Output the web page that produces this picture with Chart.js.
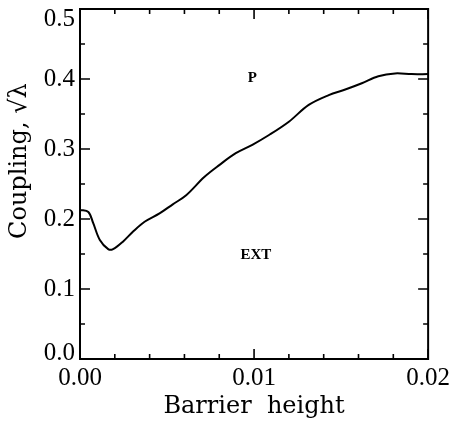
<!DOCTYPE html>
<html>
<head>
<meta charset="utf-8">
<script src="https://cdn.jsdelivr.net/npm/chart.js@4/dist/chart.umd.min.js"></script>
<style>
  html, body { margin: 0; padding: 0; background: #fff; }
  #wrap { width: 454px; height: 425px; }
</style>
</head>
<body>
<div id="wrap"><canvas id="c" width="454" height="425"></canvas></div>
<script>
// ---- data ----
const barrierHeight = [0, 0.00048, 0.00076, 0.00114, 0.00162, 0.0019, 0.00248, 0.00305, 0.00371, 0.00457,
  0.00533, 0.0061, 0.00714, 0.008, 0.00895, 0.0099, 0.01086, 0.012, 0.01314, 0.01429,
  0.01524, 0.01619, 0.01714, 0.0181, 0.01905, 0.02];
const coupling = [0.213, 0.210, 0.194, 0.170, 0.157, 0.157, 0.168, 0.182, 0.196, 0.208,
  0.221, 0.234, 0.260, 0.277, 0.294, 0.306, 0.320, 0.339, 0.363, 0.377,
  0.385, 0.394, 0.404, 0.408, 0.407, 0.407];

const xMajorTicks = [0, 0.01, 0.02];
const xTickLabels = ['0.00', '0.01', '0.02'];
const xMinorTicks = [0.002, 0.004, 0.006, 0.008, 0.012, 0.014, 0.016, 0.018];
const yMajorTicks = [0, 0.1, 0.2, 0.3, 0.4, 0.5];
const yTickLabels = ['0.0', '0.1', '0.2', '0.3', '0.4', '0.5'];
const yMinorTicks = [0.05, 0.15, 0.25, 0.35, 0.45];

const regionLabels = ['P', 'EXT'];
const regionLabelX = [0.0099, 0.0101];
const regionLabelY = [0.401, 0.149];

const xTitle = 'Barrier  height';
const yTitle = 'Coupling, \u221A\u03BB';

// ---- drawing ----
const frameTicks = {
  id: 'frameTicks',
  afterDraw(chart) {
    const ctx = chart.ctx, xs = chart.scales.x, ys = chart.scales.y;
    const a = chart.chartArea;
    ctx.save();
    ctx.strokeStyle = '#000';
    ctx.lineWidth = 2;
    ctx.strokeRect(a.left, a.top, a.right - a.left, a.bottom - a.top);
    ctx.lineWidth = 1.6;
    const tickX = (v, len) => {
      const p = xs.getPixelForValue(v);
      ctx.beginPath();
      ctx.moveTo(p, a.bottom); ctx.lineTo(p, a.bottom - len);
      ctx.moveTo(p, a.top); ctx.lineTo(p, a.top + len);
      ctx.stroke();
    };
    const tickY = (v, len) => {
      const p = ys.getPixelForValue(v);
      ctx.beginPath();
      ctx.moveTo(a.left, p); ctx.lineTo(a.left + len, p);
      ctx.moveTo(a.right, p); ctx.lineTo(a.right - len, p);
      ctx.stroke();
    };
    xMajorTicks.forEach(v => tickX(v, 10));
    xMinorTicks.forEach(v => tickX(v, 5));
    yMajorTicks.forEach(v => tickY(v, 10));
    yMinorTicks.forEach(v => tickY(v, 5));

    ctx.fillStyle = '#000';
    // y tick labels (kept inside the image like the reference)
    ctx.font = '25px "Liberation Serif"';
    ctx.textAlign = 'right';
    ctx.textBaseline = 'middle';
    yMajorTicks.forEach((v, i) => {
      let p = ys.getPixelForValue(v);
      p = Math.max(p, a.top + 10);
      p = Math.min(p, a.bottom - 6);
      ctx.fillText(yTickLabels[i], a.left - 5, p);
    });

    ctx.font = 'bold 15px "Liberation Serif"';
    ctx.textAlign = 'center';
    regionLabels.forEach((t, i) => {
      ctx.fillText(t, xs.getPixelForValue(regionLabelX[i]), ys.getPixelForValue(regionLabelY[i]));
    });
    ctx.restore();
  }
};

new Chart(document.getElementById('c'), {
  type: 'scatter',
  data: {
    datasets: [{
      data: barrierHeight.map((x, i) => ({ x: x, y: coupling[i] })),
      showLine: true,
      borderColor: '#000',
      borderWidth: 2,
      pointRadius: 0,
      tension: 0.35,
      fill: false
    }]
  },
  options: {
    responsive: false,
    animation: false,
    layout: { padding: { top: 9, right: 23, left: 0, bottom: 0 } },
    plugins: { legend: { display: false }, tooltip: { enabled: false } },
    scales: {
      x: {
        type: 'linear', min: 0, max: 0.02,
        afterFit(s) { s.height = 66; },
        afterBuildTicks(s) { s.ticks = xMajorTicks.map(v => ({ value: v })); },
        grid: { display: false, drawTicks: false },
        border: { display: false },
        ticks: {
          color: '#000', padding: 4, maxRotation: 0, autoSkip: false,
          font: { family: '"Liberation Serif"', size: 25 },
          callback: (v, i) => xTickLabels[i]
        },
        title: {
          display: true, text: xTitle, color: '#000',
          font: { family: '"DejaVu Serif"', size: 24 },
          padding: { top: 0, bottom: 4 }
        }
      },
      y: {
        type: 'linear', min: 0, max: 0.5,
        afterFit(s) { s.width = 80; },
        afterBuildTicks(s) { s.ticks = yMajorTicks.map(v => ({ value: v })); },
        grid: { display: false, drawTicks: false },
        border: { display: false },
        ticks: { display: false },
        title: {
          display: true, text: '      ' + yTitle, color: '#000',
          font: { family: '"DejaVu Serif"', size: 24 },
          padding: { top: 5, bottom: 0 }
        }
      }
    }
  },
  plugins: [frameTicks]
});
</script>
</body>
</html>
